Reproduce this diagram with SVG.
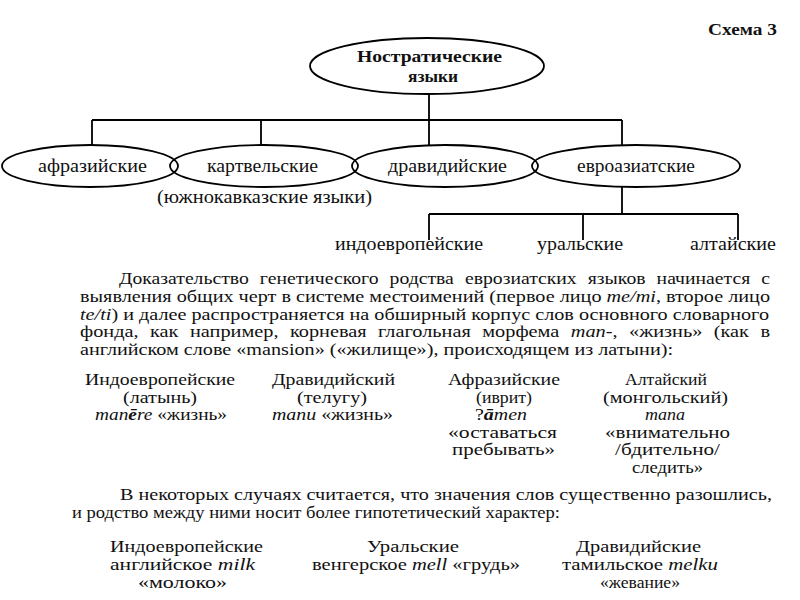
<svg xmlns="http://www.w3.org/2000/svg" width="800" height="600" viewBox="0 0 800 600" font-family="'Liberation Serif', 'Times New Roman', serif">
<style>
  .bg { fill: #ffffff; }
  .node { fill: none; stroke: #000; stroke-width: 1.8; }
  .conn { fill: none; stroke: #000; stroke-width: 1.8; }
  .lbl { font-family: 'Liberation Serif', 'Times New Roman', serif; font-size: 18px; fill: #111; }
  .ttl { font-family: 'Liberation Serif', 'Times New Roman', serif; font-size: 17px; font-weight: bold; fill: #111; }
  .body { font-family: 'Liberation Serif', 'Times New Roman', serif; font-size: 16px; fill: #111; }
  .i { font-style: italic; }
  .b { font-weight: bold; }
</style>
<rect class="bg" x="0" y="0" width="800" height="600"/>

<text id="schema-label" class="ttl" x="708" y="35" textLength="69" lengthAdjust="spacingAndGlyphs">Схема 3</text>

<g id="connectors">
  <path class="conn" d="M429,94 V120 M92,120 H622 M92,120 V145 M261,120 V145 M429,120 V145 M622,120 V145"/>
  <path class="conn" d="M622,187 V214 M429,214 H738 M429,214 V240 M583,214 V240 M738,214 V240"/>
</g>

<g id="nostratic">
  <ellipse class="node" cx="427" cy="66" rx="117" ry="28"/>
  <text class="ttl" x="357" y="62" textLength="145" lengthAdjust="spacingAndGlyphs">Ностратические</text>
  <text class="ttl" x="408" y="82" textLength="50" lengthAdjust="spacingAndGlyphs">языки</text>
</g>

<g id="afrasian">
  <ellipse class="node" cx="90" cy="166" rx="88" ry="21"/>
  <text class="lbl" x="38" y="172" textLength="109" lengthAdjust="spacingAndGlyphs">афразийские</text>
</g>
<g id="kartvelian">
  <ellipse class="node" cx="264" cy="166" rx="94" ry="21"/>
  <text class="lbl" x="207" y="172" textLength="111" lengthAdjust="spacingAndGlyphs">картвельские</text>
  <text class="lbl" x="157" y="203" textLength="215" lengthAdjust="spacingAndGlyphs">(южнокавказские языки)</text>
</g>
<g id="dravidian">
  <ellipse class="node" cx="445" cy="166" rx="93" ry="21"/>
  <text class="lbl" x="388" y="172" textLength="119" lengthAdjust="spacingAndGlyphs">дравидийские</text>
</g>
<g id="eurasiatic">
  <ellipse class="node" cx="636" cy="166" rx="104" ry="21"/>
  <text class="lbl" x="577" y="172" textLength="118" lengthAdjust="spacingAndGlyphs">евроазиатские</text>
</g>

<g id="indoeuropean">
  <text class="lbl" x="335" y="250" textLength="148" lengthAdjust="spacingAndGlyphs">индоевропейские</text>
</g>
<g id="uralic">
  <text class="lbl" x="537" y="250" textLength="86" lengthAdjust="spacingAndGlyphs">уральские</text>
</g>
<g id="altaic">
  <text class="lbl" x="690" y="250" textLength="86" lengthAdjust="spacingAndGlyphs">алтайские</text>
</g>

<g id="paragraph1">
  <text class="body" x="119" y="284" textLength="651" lengthAdjust="spacingAndGlyphs" word-spacing="5">Доказательство генетического родства еврозиатских языков начинается с</text>
  <text class="body" x="80" y="302" textLength="690" lengthAdjust="spacingAndGlyphs">выявления общих черт в системе местоимений (первое лицо <tspan class="i">me/mi</tspan>, второе лицо</text>
  <text class="body" x="80" y="319.5" textLength="689" lengthAdjust="spacingAndGlyphs"><tspan class="i">te/ti</tspan>) и далее распространяется на обширный корпус слов основного словарного</text>
  <text class="body" x="80" y="337" textLength="690" lengthAdjust="spacingAndGlyphs" word-spacing="5">фонда, как например, корневая глагольная морфема <tspan class="i">man-</tspan>, «жизнь» (как в</text>
  <text class="body" x="80" y="354.5" textLength="593" lengthAdjust="spacingAndGlyphs">английском слове «mansion» («жилище»), происходящем из латыни):</text>
</g>

<g id="examples1">
  <text class="body" x="85" y="385" textLength="150" lengthAdjust="spacingAndGlyphs">Индоевропейские</text>
  <text class="body" x="123" y="402.5" textLength="74" lengthAdjust="spacingAndGlyphs">(латынь)</text>
  <text class="body" x="95" y="420" textLength="132" lengthAdjust="spacingAndGlyphs"><tspan class="i">man</tspan><tspan class="i b">ē</tspan><tspan class="i">re</tspan> «жизнь»</text>

  <text class="body" x="272" y="385" textLength="123" lengthAdjust="spacingAndGlyphs">Дравидийский</text>
  <text class="body" x="297" y="402.5" textLength="70" lengthAdjust="spacingAndGlyphs">(телугу)</text>
  <text class="body" x="272" y="420" textLength="121" lengthAdjust="spacingAndGlyphs"><tspan class="i">manu</tspan> «жизнь»</text>

  <text class="body" x="448" y="385" textLength="112" lengthAdjust="spacingAndGlyphs">Афразийские</text>
  <text class="body" x="476" y="402.5" textLength="56" lengthAdjust="spacingAndGlyphs">(иврит)</text>
  <text class="body" x="475" y="420" textLength="52" lengthAdjust="spacingAndGlyphs">?<tspan class="i b">ā</tspan><tspan class="i">men</tspan></text>
  <text class="body" x="448" y="437.5" textLength="109" lengthAdjust="spacingAndGlyphs">«оставаться</text>
  <text class="body" x="452" y="455" textLength="103" lengthAdjust="spacingAndGlyphs">пребывать»</text>

  <text class="body" x="625" y="385" textLength="82" lengthAdjust="spacingAndGlyphs">Алтайский</text>
  <text class="body" x="603" y="402.5" textLength="125" lengthAdjust="spacingAndGlyphs">(монгольский)</text>
  <text class="body i" x="645" y="420" textLength="40" lengthAdjust="spacingAndGlyphs">mana</text>
  <text class="body" x="605" y="437.5" textLength="125" lengthAdjust="spacingAndGlyphs">«внимательно</text>
  <text class="body" x="615" y="455" textLength="105" lengthAdjust="spacingAndGlyphs">/бдительно/</text>
  <text class="body" x="632" y="472.5" textLength="71" lengthAdjust="spacingAndGlyphs">следить»</text>
</g>

<g id="paragraph2">
  <text class="body" x="120" y="500" textLength="652" lengthAdjust="spacingAndGlyphs">В некоторых случаях считается, что значения слов существенно разошлись,</text>
  <text class="body" x="72" y="518" textLength="488" lengthAdjust="spacingAndGlyphs">и родство между ними носит более гипотетический характер:</text>
</g>

<g id="examples2">
  <text class="body" x="110" y="552" textLength="153" lengthAdjust="spacingAndGlyphs">Индоевропейские</text>
  <text class="body" x="110" y="570" textLength="145" lengthAdjust="spacingAndGlyphs">английское <tspan class="i">milk</tspan></text>
  <text class="body" x="138" y="588" textLength="89" lengthAdjust="spacingAndGlyphs">«молоко»</text>

  <text class="body" x="367" y="552" textLength="92" lengthAdjust="spacingAndGlyphs">Уральские</text>
  <text class="body" x="312" y="570" textLength="208" lengthAdjust="spacingAndGlyphs">венгерское <tspan class="i">mell</tspan> «грудь»</text>

  <text class="body" x="576" y="552" textLength="125" lengthAdjust="spacingAndGlyphs">Дравидийские</text>
  <text class="body" x="562" y="570" textLength="156" lengthAdjust="spacingAndGlyphs">тамильское <tspan class="i">melku</tspan></text>
  <text class="body" x="600" y="588" textLength="80" lengthAdjust="spacingAndGlyphs">«жевание»</text>
</g>
</svg>
